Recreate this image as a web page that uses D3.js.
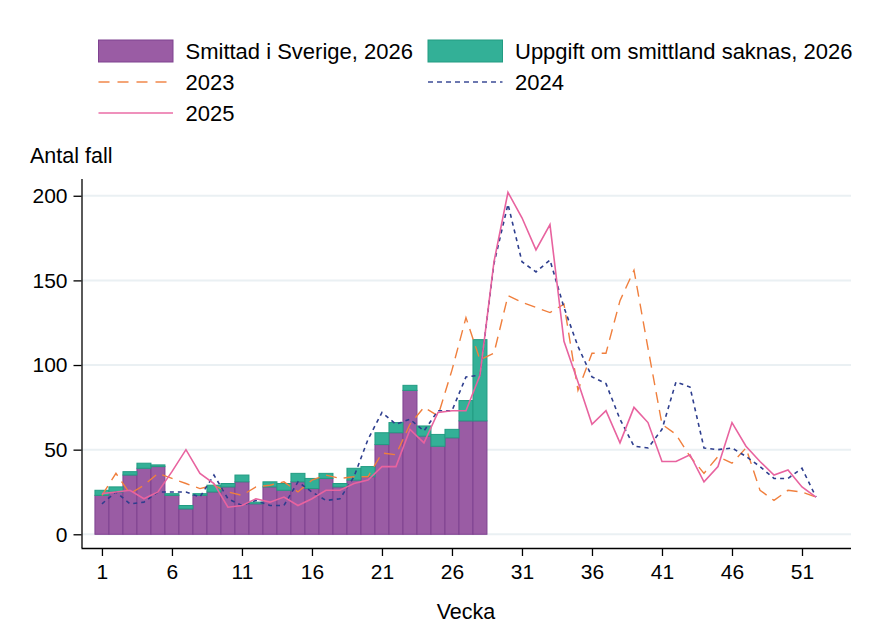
<!DOCTYPE html>
<html>
<head>
<meta charset="utf-8">
<script src="https://cdn.jsdelivr.net/npm/d3@7"></script>
<style>
  body { margin: 0; background: #fff; }
  text { font-family: "Liberation Sans", Arial, sans-serif; fill: #000; }
</style>
</head>
<body>
<div id="chart"></div>
<script>
// veckor
const weeks = d3.range(1, 53);
const barWeeks = d3.range(1, 29);

// 2026, staplar
const sverige2026 = [23, 25, 35, 39, 40, 23, 15, 23, 25, 28, 31, 18, 28, 26,
  31, 27, 33, 28, 32, 34, 53, 60, 85, 58, 52, 57, 67, 67];
const saknas2026 = [3, 3, 2, 3, 1, 1, 2, 1, 4, 2, 4, 1, 3, 4,
  5, 6, 3, 2, 7, 6, 7, 6, 3, 6, 7, 5, 12, 48];

// tidigare år, linjer
const y2023 = [23, 36, 24, 29, 36, 33, 30, 27, 29, 25, 23, 28, 29, 31, 25, 32, 35, 33,
  34, 34, 48, 47, 65, 75, 70, 97, 128, 103, 107, 141, 137, 134, 131, 136, 85, 107,
  107, 138, 156, 110, 65, 59, 46, 36, 46, 42, 51, 26, 20, 26, 25, 22];
const y2024 = [18, 25, 18, 19, 25, 25, 25, 22, 35, 21, 17, 20, 17, 17, 31, 25, 20, 21,
  34, 56, 72, 65, 68, 61, 73, 73, 93, 94, 160, 195, 161, 155, 162, 134, 111, 93,
  89, 68, 52, 51, 62, 90, 87, 51, 50, 51, 46, 40, 33, 33, 39, 22];
const y2025 = [24, 25, 26, 21, 25, 37, 50, 36, 30, 16, 17, 21, 19, 22, 17, 21, 26, 26,
  30, 32, 40, 40, 62, 54, 72, 73, 73, 94, 161, 202, 187, 168, 183, 114, 90, 65,
  73, 54, 75, 66, 43, 43, 47, 31, 40, 66, 52, 43, 35, 38, 28, 22];

const xTicks = [1, 6, 11, 16, 21, 26, 31, 36, 41, 46, 51];
const yTicks = [0, 50, 100, 150, 200];

const width = 874;
const height = 635;
const plotLeft = 81.5, plotRight = 851, plotTop = 179, plotBottom = 548;

const colPurple = "#9a5ca4", colPurpleEdge = "#7f4290";
const colGreen = "#33b097", colGreenEdge = "#229c82";
const col2023 = "#f07f3d", col2024 = "#2e3e8e", col2025 = "#e8639f";

const svg = d3.select("#chart")
  .append("svg")
  .attr("width", width)
  .attr("height", height);

const x = d3.scaleLinear().domain([-0.46, 54.5]).range([plotLeft, plotRight]);
const y = d3.scaleLinear().domain([-8.1, 209.9]).range([plotBottom, plotTop]);

// rutnät
svg.append("g")
  .selectAll("line")
  .data(yTicks)
  .enter()
  .append("line")
  .attr("x1", plotLeft)
  .attr("x2", plotRight)
  .attr("y1", (d) => y(d))
  .attr("y2", (d) => y(d))
  .attr("stroke", "#eaf0f3")
  .attr("stroke-width", 2);

// staplar
const bars = barWeeks.map((w, i) => ({
  week: w,
  a: sverige2026[i],
  b: saknas2026[i],
}));

svg.append("g")
  .selectAll("rect")
  .data(bars)
  .enter()
  .append("rect")
  .attr("x", (d) => x(d.week - 0.5))
  .attr("width", (d) => x(d.week + 0.5) - x(d.week - 0.5))
  .attr("y", (d) => y(d.a))
  .attr("height", (d) => y(0) - y(d.a))
  .attr("fill", colPurple)
  .attr("stroke", colPurpleEdge)
  .attr("stroke-width", 1);

svg.append("g")
  .selectAll("rect")
  .data(bars)
  .enter()
  .append("rect")
  .attr("x", (d) => x(d.week - 0.5))
  .attr("width", (d) => x(d.week + 0.5) - x(d.week - 0.5))
  .attr("y", (d) => y(d.a + d.b))
  .attr("height", (d) => y(d.a) - y(d.a + d.b))
  .attr("fill", colGreen)
  .attr("stroke", colGreenEdge)
  .attr("stroke-width", 1);

// linjer
const line = d3.line()
  .x((d, i) => x(weeks[i]))
  .y((d) => y(d));

const series = [
  { values: y2023, color: col2023, dash: "11,7", width: 1.4 },
  { values: y2024, color: col2024, dash: "4,4", width: 1.6 },
  { values: y2025, color: col2025, dash: null, width: 1.6 },
];

series.forEach((s) => {
  svg.append("path")
    .datum(s.values)
    .attr("d", line)
    .attr("fill", "none")
    .attr("stroke", s.color)
    .attr("stroke-width", s.width)
    .attr("stroke-dasharray", s.dash);
});

// axlar
const xAxis = svg.append("g")
  .attr("transform", `translate(0,${plotBottom})`)
  .call(d3.axisBottom(x).tickValues(xTicks).tickSize(8).tickPadding(8).tickFormat(d3.format("d")));
xAxis.select(".domain").attr("d", `M${plotLeft},0.5H${plotRight}`).attr("stroke", "#000").attr("stroke-width", 1.3);

const yAxis = svg.append("g")
  .attr("transform", `translate(${plotLeft},0)`)
  .call(d3.axisLeft(y).tickValues(yTicks).tickSize(8).tickPadding(6));
yAxis.select(".domain").attr("d", `M0.5,${plotTop}V${plotBottom}`).attr("stroke", "#000").attr("stroke-width", 1.3);

svg.selectAll(".tick line").attr("stroke", "#000").attr("stroke-width", 1.3);
svg.selectAll(".tick text")
  .style("font-family", "'Liberation Sans', Arial, sans-serif")
  .style("font-size", "21px")
  .attr("fill", "#000");

svg.append("text")
  .attr("x", 30)
  .attr("y", 163)
  .style("font-size", "21.5px")
  .text("Antal fall");

svg.append("text")
  .attr("x", 466)
  .attr("y", 619)
  .attr("text-anchor", "middle")
  .style("font-size", "21.5px")
  .text("Vecka");

// förklaring
const legend = svg.append("g");
const legendItems = [
  { label: "Smittad i Sverige, 2026", type: "box", fill: colPurple, edge: colPurpleEdge, x: 98.5, y: 51 },
  { label: "Uppgift om smittland saknas, 2026", type: "box", fill: colGreen, edge: colGreenEdge, x: 428, y: 51 },
  { label: "2023", type: "line", color: col2023, dash: "11,8", x: 98.5, y: 82 },
  { label: "2024", type: "line", color: col2024, dash: "5,4", x: 428, y: 82 },
  { label: "2025", type: "line", color: col2025, dash: null, x: 98.5, y: 113 },
];

legendItems.forEach((d) => {
  if (d.type === "box") {
    legend.append("rect")
      .attr("x", d.x)
      .attr("y", d.y - 11)
      .attr("width", 74.5)
      .attr("height", 22)
      .attr("fill", d.fill)
      .attr("stroke", d.edge)
      .attr("stroke-width", 1);
  } else {
    legend.append("line")
      .attr("x1", d.x)
      .attr("x2", d.x + 74.5)
      .attr("y1", d.y)
      .attr("y2", d.y)
      .attr("stroke", d.color)
      .attr("stroke-opacity", 0.7)
      .attr("stroke-width", 2)
      .attr("stroke-dasharray", d.dash);
  }
  legend.append("text")
    .attr("x", d.x + 87)
    .attr("y", d.y + 7.5)
    .style("font-size", "22px")
    .text(d.label);
});
</script>
</body>
</html>
